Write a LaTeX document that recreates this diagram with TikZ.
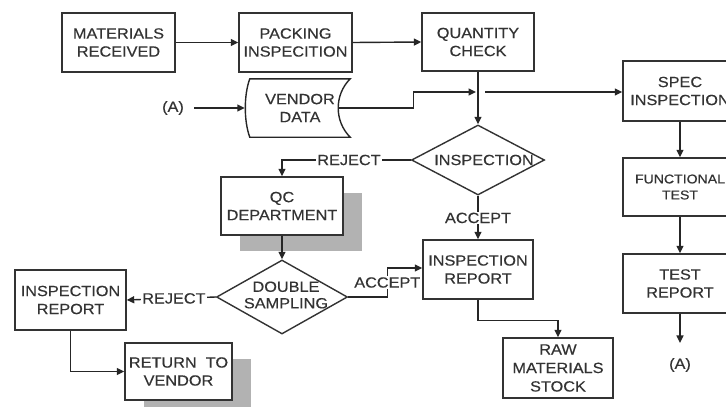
\documentclass[tikz,border=0pt]{standalone}
\usepackage{fontspec}
\setmainfont{Liberation Sans}[FakeStretch=1.1, FakeBold=0.4]
\usetikzlibrary{arrows.meta,shapes.geometric,shadows}
\tikzset{
  box/.style={rectangle, draw=black!80, line width=1.4pt, fill=white, inner sep=0pt,
    align=center, minimum width=113pt, minimum height=59pt},
  dia/.style={diamond, draw=black!80, line width=1.4pt, inner sep=0pt},
  shd/.style={general shadow={fill=black!30, shadow xshift=18.5pt, shadow yshift=-15.5pt}},
  arr/.style={draw=black!85, line width=1.4pt, -{Triangle[length=7.5pt,width=7pt]}},
  ln/.style={draw=black!85, line width=1.4pt},
  lbl/.style={fill=white, inner sep=1pt},
  txt/.style={inner sep=0pt, align=center}
}
\begin{document}
\begin{tikzpicture}[x=1pt, y=-1pt, text=black!80,
  font=\fontsize{14.8}{18}\selectfont]
\clip (0,0) rectangle (726,407);
\fill[white] (0,0) rectangle (726,407);

% top row
\node[box] (mat) at (118.5,42.5) {MATERIALS\\RECEIVED};
\node[box] (pack) at (295.5,42.5) {PACKING\\INSPECITION};
\node[box, minimum width=112pt, minimum height=58pt] (qty) at (478,42) {QUANTITY\\CHECK};

% vendor data
\node[txt, minimum width=100pt, minimum height=58pt] (vend) at (300,108) {VENDOR\\DATA};
\draw[ln] (vend.north west) -- (vend.north east)
  .. controls ([shift={(-16,16)}]vend.north east) and ([shift={(-16,-16)}]vend.south east) .. (vend.south east)
  -- (vend.south west)
  .. controls ([shift={(-6,-16)}]vend.south west) and ([shift={(-6,16)}]vend.north west) .. (vend.north west) -- cycle;
\node[txt] (a1) at (173,108) {(A)};

% right column
\node[box, minimum width=114pt, minimum height=60pt] (spec) at (680,91) {SPEC\\INSPECTION};
\node[box, minimum width=114pt, minimum height=58pt, font=\fontsize{12.8}{16}\selectfont] (func) at (680,187) {FUNCTIONAL\\TEST};
\node[box, minimum width=114pt, minimum height=59pt] (trep) at (680,283.5) {TEST\\REPORT};
\node[txt] (a2) at (680,365) {(A)};

% inspection diamond
\node[dia, minimum width=133pt, minimum height=70pt] (insp) at (478,160) {};
\node[txt] (insptxt) at (484,160) {INSPECTION};

% QC department and double sampling
\node[box, shd, minimum width=122pt, minimum height=58pt] (qc) at (282,206) {QC\\DEPARTMENT};
\node[dia, minimum width=131pt, minimum height=74pt] (dbl) at (282,297) {};
\node[txt, font=\fontsize{14.8}{16.5}\selectfont] (dbltxt) at (286,295) {DOUBLE\\SAMPLING};

% reports
\node[box, minimum width=110pt, minimum height=59pt] (irep) at (478,269.5) {INSPECTION\\REPORT};
\node[box, minimum width=110pt, minimum height=60pt, font=\fontsize{14.8}{18.5}\selectfont] (raw) at (558,368) {RAW\\MATERIALS\\STOCK};
\node[box, minimum width=111pt, minimum height=60pt] (irepl) at (70.5,300) {INSPECTION\\REPORT};
\node[box, shd, minimum width=107pt, minimum height=57pt] (ret) at (178.5,371.5) {RETURN\ \ TO\\VENDOR};

% junction coordinates
\coordinate (jin) at (476,92);
\coordinate (jout) at (485,92);

% connectors
\draw[arr] (mat.east) -- (pack.west);
\draw[arr] (pack.east) -- (qty.west);
\draw[arr, shorten <=10pt] (a1.east) -- ([xshift=-5pt]vend.west);
\draw[arr] ([xshift=-12pt]vend.east) -- ++(75,0) |- (jin);
\draw[arr] (qty.south) -- (insp.north);
\draw[arr] (jout) -- (jout -| spec.west);
\draw[arr] (spec.south) -- (func.north);
\draw[arr] (func.south) -- (trep.north);
\draw[arr] (trep.south) -- ([yshift=15pt]a2.north);
\draw[arr] (insp.west) -| node[lbl, pos=0.24] {REJECT} (qc.north);
\draw[arr] (insp.south) -- node[lbl, pos=0.51] {ACCEPT} (irep.north);
\draw[arr] (qc.south) -- (dbl.north);
\draw[arr] (dbl.west) -- node[lbl, pos=0.47] {REJECT} (irepl.east);
\draw[arr] (dbl.east) -| node[lbl, pos=0.75] {ACCEPT} ([xshift=-35pt,yshift=1.5pt]irep.west) -- ([yshift=1.5pt]irep.west);
\draw[arr] (irep.south) -- ++(0,21) -| (raw.north);
\draw[arr] (irepl.south) |- (ret.west);
\end{tikzpicture}
\end{document}
